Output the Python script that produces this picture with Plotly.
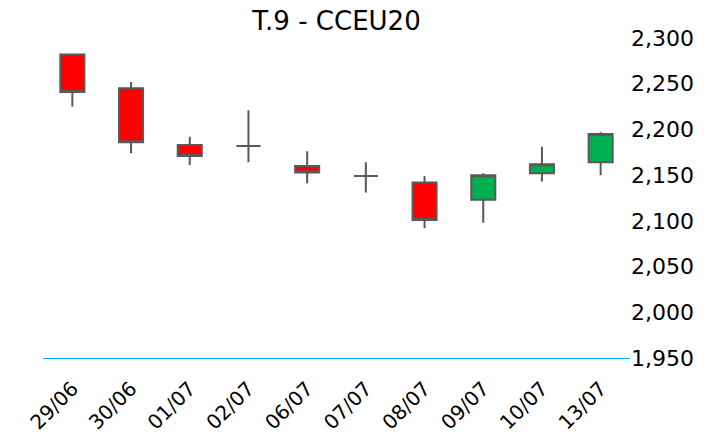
import plotly.graph_objects as go

dates = ["29/06", "30/06", "01/07", "02/07", "06/07", "07/07", "08/07", "09/07", "10/07", "13/07"]
open_ = [2282, 2245, 2183, 2182, 2160, 2149, 2142, 2123, 2152, 2164]
high = [2282, 2252, 2192, 2221, 2176, 2164, 2149, 2152, 2181, 2197]
low = [2225, 2174, 2161, 2164, 2141, 2131, 2092, 2098, 2143, 2150]
close = [2241, 2186, 2171, 2182, 2153, 2149, 2101, 2150, 2162, 2195]

y_ticks = [1950, 2000, 2050, 2100, 2150, 2200, 2250, 2300]

# The page body has an 8px margin, so the figure is sized to fit the window.
W, H = 700, 432

fig = go.Figure(
    go.Candlestick(
        x=dates,
        open=open_,
        high=high,
        low=low,
        close=close,
        increasing=dict(fillcolor="#00B050", line=dict(color="#595959", width=2)),
        decreasing=dict(fillcolor="#FF0000", line=dict(color="#595959", width=2)),
        whiskerwidth=0,
        showlegend=False,
    )
)

fig.update_layout(
    width=W,
    height=H,
    margin=dict(l=35, r=78, t=30, b=82),
    paper_bgcolor="white",
    plot_bgcolor="white",
    boxgap=0.59,
    boxgroupgap=0,
    font=dict(family="DejaVu Sans", color="#000000"),
    title=dict(
        text="T.9 - CCEU20",
        x=0.5,
        xref="paper",
        xanchor="center",
        y=1,
        yanchor="top",
        yref="container",
        pad=dict(t=4, b=0, l=0, r=0),
        font=dict(size=26, family="DejaVu Sans", color="#000000"),
    ),
    xaxis=dict(
        type="category",
        rangeslider=dict(visible=False),
        automargin=False,
        showgrid=False,
        showline=True,
        linecolor="#00B0F0",
        linewidth=1,
        tickangle=-45,
        tickfont=dict(size=20),
        ticks="outside",
        ticklen=10,
        tickcolor="rgba(0,0,0,0)",
        zeroline=False,
        range=[-0.5, 9.5],
    ),
    yaxis=dict(
        side="right",
        automargin=False,
        range=[1950, 2300],
        tickvals=y_ticks,
        tickformat=",d",
        showgrid=False,
        zeroline=False,
        showline=False,
        ticks="",
        tickfont=dict(size=22),
    ),
)

fig.write_html("out.html")
